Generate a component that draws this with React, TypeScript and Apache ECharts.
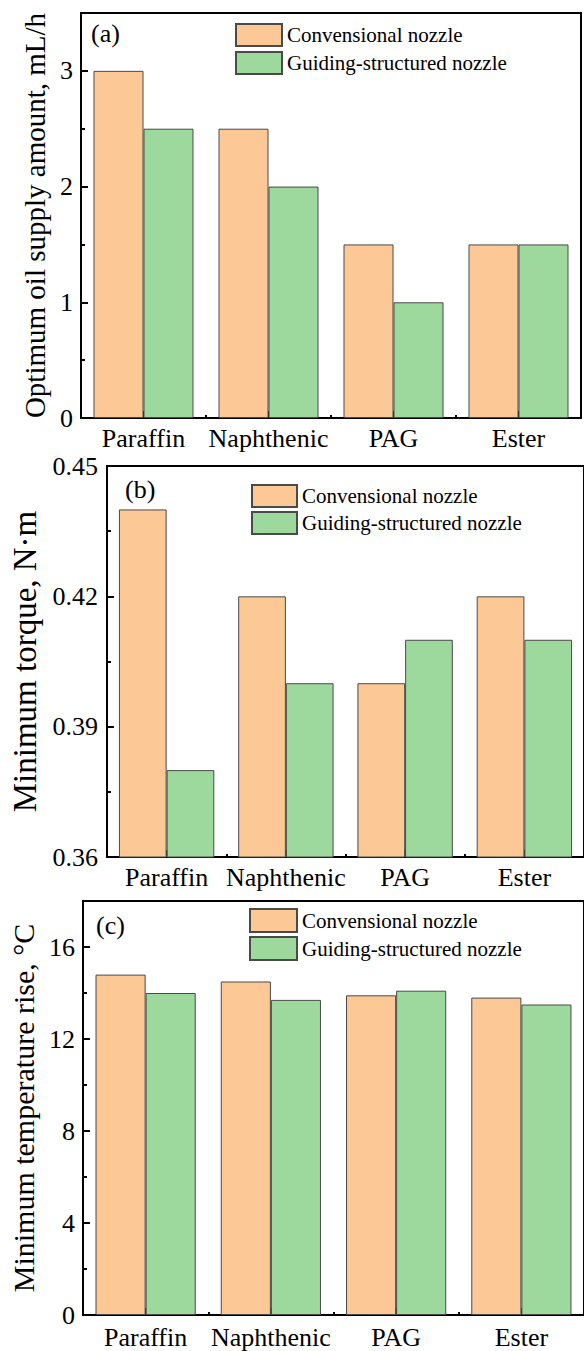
import React, { useEffect, useRef } from "react";
import * as echarts from "echarts";

const categories = ["Paraffin", "Naphthenic", "PAG", "Ester"];
const seriesNames = ["Convensional nozzle", "Guiding-structured nozzle"];

const oilConv = [3.0, 2.5, 1.5, 1.5];
const oilGuide = [2.5, 2.0, 1.0, 1.5];

const torqueConv = [0.44, 0.42, 0.4, 0.42];
const torqueGuide = [0.38, 0.4, 0.41, 0.41];

const tempConv = [14.8, 14.5, 13.9, 13.8];
const tempGuide = [14.0, 13.7, 14.1, 13.5];

const panelLabels = ["(a)", "(b)", "(c)"];
const yTitles = [
  "Optimum oil supply amount, mL/h",
  "Minimum torque, N\u00b7m",
  "Minimum temperature rise, \u00b0C",
];

const FONT = "'Liberation Serif'";
const ORANGE = "#FBC896";
const GREEN = "#9DD89D";
const BORDER = "#4a4a4a";

export default function App() {
  const ref = useRef<HTMLDivElement>(null);

  useEffect(() => {
    if (!ref.current) return;
    const chart = echarts.init(ref.current, null, { renderer: "svg" });

    const grids = [
      { left: 81, top: 13, width: 500, height: 405 },
      { left: 107, top: 466, width: 486, height: 391 },
      { left: 83, top: 901, width: 510, height: 414 },
    ];
    const yCfg = [
      { min: 0, max: 3.5, interval: 1, minor: 0.5, fmt: (v: number) => String(v), hideMax: true, nameSize: 29, nameGap: 26, labelMargin: 8 },
      { min: 0.36, max: 0.45, interval: 0.03, minor: 0.015, fmt: (v: number) => v.toFixed(2), hideMax: false, nameSize: 33, nameGap: 58, labelMargin: 9 },
      { min: 0, max: 18, interval: 4, minor: 2, fmt: (v: number) => String(v), hideMax: true, nameSize: 30, nameGap: 41, labelMargin: 8 },
    ];
    const xMargins = [7, 7.5, 9.5];
    const legendPos = [
      { left: 235, top: 23, w: 46, h: 22, gap: 4 },
      { left: 251, top: 484, w: 45, h: 22, gap: 3 },
      { left: 249, top: 908, w: 47, h: 23, gap: 3 },
    ];
    const labelPos = [
      { left: 91, top: 20 },
      { left: 125, top: 476 },
      { left: 96, top: 912 },
    ];
    const dataSets = [
      [oilConv, oilGuide],
      [torqueConv, torqueGuide],
      [tempConv, tempGuide],
    ];

    const gridOpt: any[] = [];
    const xAxes: any[] = [];
    const yAxes: any[] = [];
    const series: any[] = [];
    const legends: any[] = [];
    const graphics: any[] = [];

    grids.forEach((g) => {
      gridOpt.push({
        ...g,
        show: true,
        borderColor: "#000",
        borderWidth: 2,
        backgroundColor: "transparent",
      });
      gridOpt.push({ ...g, show: false });
    });

    grids.forEach((g, i) => {
      const mainIdx = i * 2;
      const ovIdx = i * 2 + 1;
      const yc = yCfg[i];
      xAxes[mainIdx] = {
        type: "category",
        gridIndex: mainIdx,
        data: categories,
        boundaryGap: true,
        axisLine: { show: true, lineStyle: { color: "#000", width: 2 } },
        axisTick: { show: true, inside: true, length: 3, alignWithLabel: false, lineStyle: { color: "#000", width: 2 } },
        axisLabel: { color: "#000", fontFamily: FONT, fontSize: 26, margin: xMargins[i], interval: 0 },
        splitLine: { show: false },
      };
      xAxes[ovIdx] = {
        type: "category",
        gridIndex: ovIdx,
        data: categories,
        boundaryGap: true,
        axisLine: { show: false },
        axisTick: { show: true, inside: true, length: 7, alignWithLabel: true, lineStyle: { color: "#000", width: 2 } },
        axisLabel: { show: false },
        splitLine: { show: false },
      };
      yAxes[mainIdx] = {
        type: "value",
        gridIndex: mainIdx,
        min: yc.min,
        max: yc.max,
        interval: yc.interval,
        name: yTitles[i],
        nameLocation: "middle",
        nameRotate: 90,
        nameGap: yc.nameGap,
        nameTextStyle: { color: "#000", fontFamily: FONT, fontSize: yc.nameSize },
        axisLine: { show: true, lineStyle: { color: "#000", width: 2 } },
        axisTick: { show: true, inside: true, length: 7, lineStyle: { color: "#000", width: 2 } },
        axisLabel: {
          color: "#000",
          fontFamily: FONT,
          fontSize: 26,
          margin: yc.labelMargin,
          showMaxLabel: !yc.hideMax,
          formatter: yc.fmt,
        },
        splitLine: { show: false },
      };
      yAxes[ovIdx] = {
        type: "value",
        gridIndex: ovIdx,
        min: yc.min,
        max: yc.max,
        interval: yc.minor,
        axisLine: { show: false },
        axisTick: { show: true, inside: true, length: 4, lineStyle: { color: "#000", width: 2 } },
        axisLabel: { show: false },
        splitLine: { show: false },
      };

      const [conv, guide] = dataSets[i];
      series.push({
        type: "bar",
        name: seriesNames[0],
        xAxisIndex: mainIdx,
        yAxisIndex: mainIdx,
        data: conv,
        barGap: "0%",
        barCategoryGap: "20%",
        clip: true,
        itemStyle: { color: ORANGE, borderColor: BORDER, borderWidth: 1 },
      });
      series.push({
        type: "bar",
        name: seriesNames[1],
        xAxisIndex: mainIdx,
        yAxisIndex: mainIdx,
        data: guide,
        barGap: "0%",
        barCategoryGap: "20%",
        clip: true,
        itemStyle: { color: GREEN, borderColor: BORDER, borderWidth: 1 },
      });

      const lp = legendPos[i];
      legends.push({
        data: seriesNames,
        orient: "vertical",
        left: lp.left,
        top: lp.top,
        padding: 0,
        itemWidth: lp.w,
        itemHeight: lp.h,
        itemGap: lp.gap,
        icon: "rect",
        selectedMode: false,
        textStyle: { color: "#000", fontFamily: FONT, fontSize: 21 },
      });

      graphics.push({
        type: "text",
        left: labelPos[i].left,
        top: labelPos[i].top,
        style: {
          text: panelLabels[i],
          fill: "#000",
          fontFamily: FONT,
          fontSize: 26,
        },
      });
    });

    chart.setOption({
      animation: false,
      backgroundColor: "#fff",
      grid: gridOpt,
      xAxis: xAxes,
      yAxis: yAxes,
      legend: legends,
      series,
      graphic: graphics,
    });

    return () => chart.dispose();
  }, []);

  return (
    <div
      ref={ref}
      style={{ position: "absolute", left: 0, top: 0, width: 584, height: 1351 }}
    />
  );
}
